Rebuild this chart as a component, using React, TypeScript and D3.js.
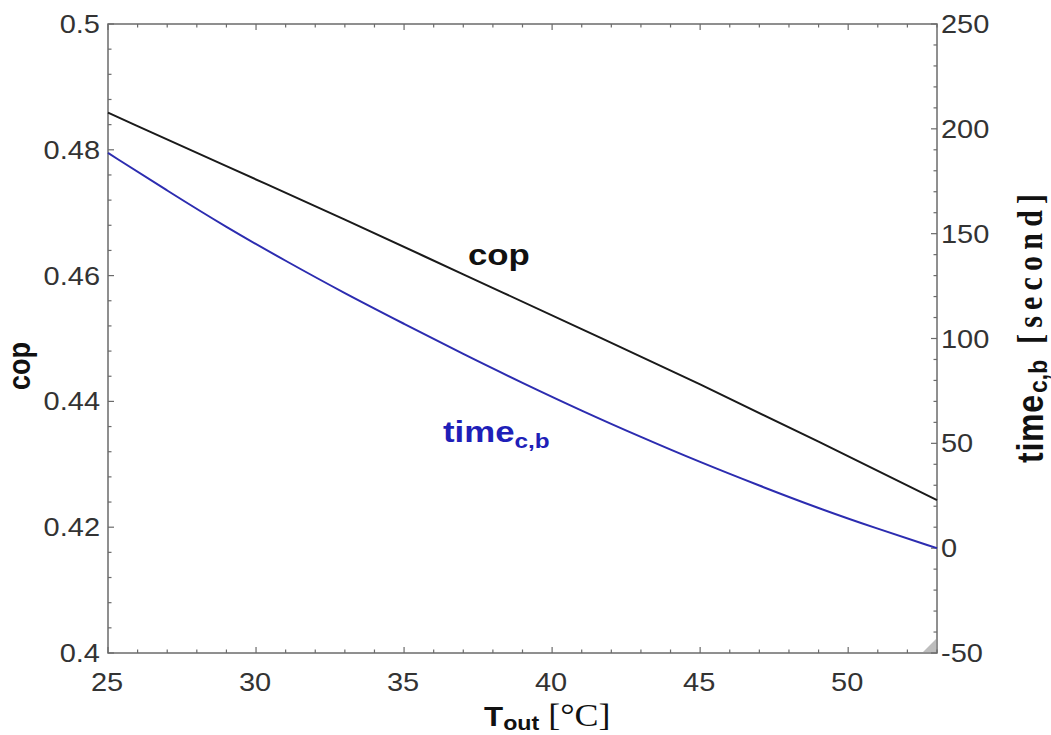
import React from "react";
import * as d3 from "d3";

const tempTicks = [25, 30, 35, 40, 45, 50];
const copTicks = [0.4, 0.42, 0.44, 0.46, 0.48, 0.5];
const copTickLabels = ["0.4", "0.42", "0.44", "0.46", "0.48", "0.5"];
const timeTicks = [-50, 0, 50, 100, 150, 200, 250];

const copT = [25, 29, 33, 37, 41, 45, 49, 53];
const copValues = [0.4859, 0.4774, 0.4689, 0.4602, 0.4515, 0.4427, 0.4336, 0.4243];

const timeT = [25, 27, 29, 31, 33, 35, 37, 39, 41, 43, 45, 47, 49, 51, 53];
const timeValues = [188.5, 170.5, 153, 137, 121.5, 107, 92.5, 78.8, 65.5, 53, 41, 29.8, 19, 9.2, 0];

const W = 1051;
const H = 735;
const left = 108;
const right = 937;
const top = 24;
const bottom = 653;
const SX = 1.16; // horizontal stretch of the original image

export default function App() {
  const x = d3.scaleLinear().domain([25, 53]).range([left, right]);
  const yL = d3.scaleLinear().domain([0.4, 0.5]).range([bottom, top]);
  const yR = d3.scaleLinear().domain([-50, 250]).range([bottom, top]);

  const copLine = d3
    .line<number>()
    .x((_, i) => x(copT[i]))
    .y((d) => yL(d))
    .curve(d3.curveMonotoneX)(copValues);
  const timeLine = d3
    .line<number>()
    .x((_, i) => x(timeT[i]))
    .y((d) => yR(d))
    .curve(d3.curveBasis)(timeValues);

  const axisColor = "#6b6b6b";
  const labelColor = "#333";
  const font = "'Liberation Sans', Arial, sans-serif";
  const serif = "'Liberation Serif', 'Times New Roman', serif";

  const xMinor = d3.range(25, 53.01, 1);
  const lMinor = d3.range(0, 26, 1).map((i) => 0.4 + i * 0.004);
  const rMinor = d3.range(0, 31, 1).map((i) => -50 + i * 10);

  return (
    <svg width={W} height={H} style={{ position: "absolute", left: 0, top: 0, background: "#fff" }}>
      <rect x={0} y={0} width={W} height={H} fill="#fff" />
      <rect x={left} y={top} width={right - left} height={bottom - top} fill="none" stroke={axisColor} strokeWidth={1.5} />
      {xMinor.map((v) => {
        const major = tempTicks.includes(Math.round(v));
        const len = major ? 6 : 3.5;
        return (
          <g key={"x" + v}>
            <line x1={x(v)} x2={x(v)} y1={bottom} y2={bottom - len} stroke={axisColor} strokeWidth={1.2} />
            <line x1={x(v)} x2={x(v)} y1={top} y2={top + len} stroke={axisColor} strokeWidth={1.2} />
          </g>
        );
      })}
      {lMinor.map((v, i) => (
        <line key={"l" + i} x1={left} x2={left + (i % 5 === 0 ? 6 : 3.5)} y1={yL(v)} y2={yL(v)} stroke={axisColor} strokeWidth={1.2} />
      ))}
      {rMinor.map((v, i) => (
        <line key={"r" + i} x1={right} x2={right - (i % 5 === 0 ? 6 : 3.5)} y1={yR(v)} y2={yR(v)} stroke={axisColor} strokeWidth={1.2} />
      ))}
      {tempTicks.map((v) => (
        <text key={"xt" + v} transform={`translate(${x(v) - 1},691) scale(${SX},1)`} textAnchor="middle" fontFamily={font} fontSize={25} fill={labelColor}>
          {v}
        </text>
      ))}
      {copTicks.map((v, i) => (
        <text key={"lt" + v} transform={`translate(${left - 8},${yL(v) + 9}) scale(${SX},1)`} textAnchor="end" fontFamily={font} fontSize={25} fill={labelColor}>
          {copTickLabels[i]}
        </text>
      ))}
      {timeTicks.map((v) => (
        <text key={"rt" + v} transform={`translate(${right + 4},${yR(v) + 9}) scale(${SX},1)`} textAnchor="start" fontFamily={font} fontSize={25} fill={labelColor}>
          {v}
        </text>
      ))}
      <path d={copLine || ""} fill="none" stroke="#1a1a1a" strokeWidth={2} />
      <path d={timeLine || ""} fill="none" stroke="#2c2cb0" strokeWidth={2} />
      <path d={`M${right - 1},${bottom - 14} L${right - 1},${bottom - 1} L${right - 14},${bottom - 1} Z`} fill="#bdbdbd" />
      {/* in-plot labels */}
      <text transform={`translate(468,265) scale(${SX},1)`} fontFamily={font} fontWeight="bold" fontSize={30} fill="#111">
        cop
      </text>
      <text transform={`translate(443,442) scale(${SX},1)`} fontFamily={font} fontWeight="bold" fontSize={30} fill="#1f1fb8">
        time
        <tspan fontSize={21} dy={6}>c,b</tspan>
      </text>
      {/* x axis title */}
      <text transform={`translate(484,726) scale(${SX},1)`} fontFamily={font} fontWeight="bold" fontSize={27} fill="#111">
        T<tspan fontSize={20} dy={4}>out</tspan>
        <tspan fontFamily={serif} fontWeight="normal" fontSize={31} dy={-4}> [°C]</tspan>
      </text>
      {/* left y title */}
      <text transform={`translate(30,366) scale(${SX},1) rotate(-90)`} textAnchor="middle" fontFamily={font} fontWeight="bold" fontSize={27} fill="#111">
        cop
      </text>
      {/* right y title */}
      <text transform={`translate(1043,463) scale(${SX},1) rotate(-90)`} fontFamily={font} fontWeight="bold" fontSize={32} fill="#111" textLength={68} lengthAdjust="spacing">
        time
      </text>
      <text transform={`translate(1047,393) scale(${SX},1) rotate(-90)`} fontFamily={font} fontWeight="bold" fontSize={23} fill="#111">
        c,b
      </text>
      <text transform={`translate(1042,344) scale(${SX},1) rotate(-90)`} fontFamily={serif} fontWeight="bold" fontSize={30} fill="#111" textLength={150} lengthAdjust="spacing">
        [second]
      </text>
    </svg>
  );
}
